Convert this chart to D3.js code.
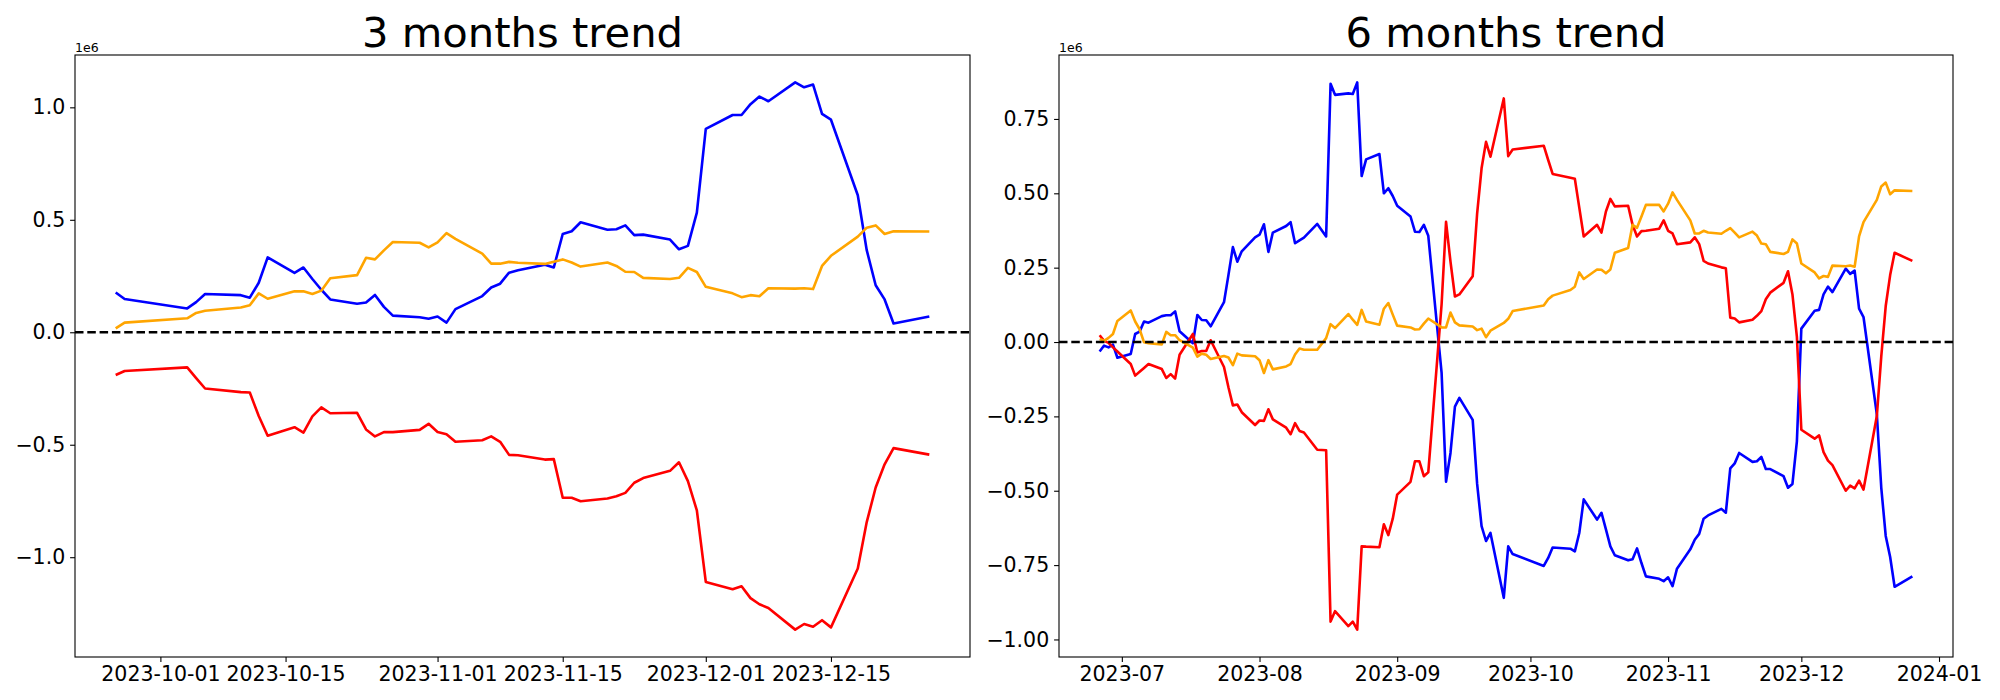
<!DOCTYPE html>
<html><head><meta charset="utf-8">
<script src="https://cdn.jsdelivr.net/npm/d3@7"></script>
<style>
body{margin:0;background:#fff}
svg{display:block}
text{font-family:"DejaVu Sans",sans-serif;fill:#000}
</style>
</head><body>
<svg id="chart" width="2000" height="700"></svg>
<script>
// ---------- 3 months (values in units of 1e6) ----------
const dates3 = [
 "2023-09-26","2023-09-27",
 "2023-10-04","2023-10-05","2023-10-06",
 "2023-10-10","2023-10-11","2023-10-12","2023-10-13",
 "2023-10-16","2023-10-17","2023-10-18","2023-10-19","2023-10-20",
 "2023-10-23","2023-10-24","2023-10-25","2023-10-26","2023-10-27",
 "2023-10-30","2023-10-31","2023-11-01","2023-11-02","2023-11-03",
 "2023-11-06","2023-11-07","2023-11-08","2023-11-09","2023-11-10",
 "2023-11-13","2023-11-14","2023-11-15","2023-11-16","2023-11-17",
 "2023-11-20","2023-11-21","2023-11-22","2023-11-23","2023-11-24",
 "2023-11-27","2023-11-28","2023-11-29","2023-11-30","2023-12-01",
 "2023-12-04","2023-12-05","2023-12-06","2023-12-07","2023-12-08",
 "2023-12-11","2023-12-12","2023-12-13","2023-12-14","2023-12-15",
 "2023-12-18","2023-12-19","2023-12-20","2023-12-21","2023-12-22",
 "2023-12-26"];
const blue3 = [
 0.177,0.148,
 0.106,0.134,0.170,
 0.165,0.154,0.220,0.333,
 0.264,0.288,0.237,0.189,0.146,
 0.127,0.132,0.166,0.113,0.074,
 0.067,0.060,0.070,0.043,0.103,
 0.161,0.199,0.216,0.265,0.276,
 0.300,0.288,0.437,0.449,0.489,
 0.456,0.458,0.475,0.432,0.434,
 0.412,0.369,0.384,0.532,0.904,
 0.966,0.966,1.014,1.048,1.027,
 1.111,1.089,1.101,0.971,0.945,
 0.609,0.365,0.209,0.146,0.039,
 0.070];
const red3 = [
 -0.190,-0.172,
 -0.156,-0.204,-0.250,
 -0.266,-0.268,-0.372,-0.460,
 -0.422,-0.446,-0.374,-0.334,-0.360,
 -0.358,-0.432,-0.463,-0.444,-0.444,
 -0.434,-0.407,-0.443,-0.453,-0.487,
 -0.480,-0.463,-0.487,-0.545,-0.547,
 -0.566,-0.564,-0.736,-0.736,-0.751,
 -0.739,-0.729,-0.714,-0.669,-0.648,
 -0.616,-0.578,-0.662,-0.792,-1.110,
 -1.142,-1.129,-1.182,-1.209,-1.226,
 -1.322,-1.297,-1.309,-1.280,-1.312,
 -1.050,-0.844,-0.690,-0.587,-0.515,
 -0.544];
const orange3 = [
 0.017,0.043,
 0.062,0.086,0.096,
 0.110,0.120,0.173,0.149,
 0.182,0.182,0.170,0.185,0.240,
 0.254,0.331,0.324,0.364,0.401,
 0.398,0.377,0.400,0.441,0.415,
 0.350,0.305,0.305,0.313,0.309,
 0.304,0.314,0.324,0.310,0.292,
 0.310,0.295,0.269,0.268,0.242,
 0.237,0.242,0.286,0.268,0.202,
 0.173,0.156,0.165,0.160,0.196,
 0.194,0.196,0.192,0.295,0.340,
 0.425,0.465,0.475,0.437,0.449,
 0.448];

// ---------- 6 months (values in units of 1e6) ----------
const dates6 = [
 "2023-06-26","2023-06-27","2023-06-28","2023-06-29","2023-06-30",
 "2023-07-03","2023-07-04","2023-07-05","2023-07-06","2023-07-07",
 "2023-07-10","2023-07-11","2023-07-12","2023-07-13","2023-07-14",
 "2023-07-17","2023-07-18","2023-07-19","2023-07-20","2023-07-21",
 "2023-07-24","2023-07-25","2023-07-26","2023-07-27","2023-07-28",
 "2023-07-31","2023-08-01","2023-08-02","2023-08-03","2023-08-04",
 "2023-08-07","2023-08-08","2023-08-09","2023-08-10","2023-08-11",
 "2023-08-14","2023-08-16","2023-08-17","2023-08-18",
 "2023-08-21","2023-08-22","2023-08-23","2023-08-24","2023-08-25",
 "2023-08-28","2023-08-29","2023-08-30","2023-08-31","2023-09-01",
 "2023-09-04","2023-09-05","2023-09-06","2023-09-07","2023-09-08",
 "2023-09-11","2023-09-12","2023-09-13","2023-09-14","2023-09-15",
 "2023-09-18","2023-09-19","2023-09-20","2023-09-21","2023-09-22",
 "2023-09-25","2023-09-26","2023-09-27",
 "2023-10-04","2023-10-05","2023-10-06",
 "2023-10-10","2023-10-11","2023-10-12","2023-10-13",
 "2023-10-16","2023-10-17","2023-10-18","2023-10-19","2023-10-20",
 "2023-10-23","2023-10-24","2023-10-25","2023-10-26","2023-10-27",
 "2023-10-30","2023-10-31","2023-11-01","2023-11-02","2023-11-03",
 "2023-11-06","2023-11-07","2023-11-08","2023-11-09","2023-11-10",
 "2023-11-13","2023-11-14","2023-11-15","2023-11-16","2023-11-17",
 "2023-11-20","2023-11-21","2023-11-22","2023-11-23","2023-11-24",
 "2023-11-27","2023-11-28","2023-11-29","2023-11-30","2023-12-01",
 "2023-12-04","2023-12-05","2023-12-06","2023-12-07","2023-12-08",
 "2023-12-11","2023-12-12","2023-12-13","2023-12-14","2023-12-15",
 "2023-12-18","2023-12-19","2023-12-20","2023-12-21","2023-12-22",
 "2023-12-26"];
const blue6 = [
 -0.032,-0.012,-0.018,-0.009,-0.053,
 -0.040,0.027,0.035,0.069,0.065,
 0.087,0.090,0.090,0.103,0.036,
 -0.004,0.091,0.074,0.073,0.053,
 0.134,0.225,0.319,0.270,0.305,
 0.352,0.361,0.396,0.303,0.368,
 0.390,0.403,0.332,0.342,0.351,
 0.397,0.355,0.868,0.831,
 0.836,0.834,0.873,0.558,0.614,
 0.632,0.500,0.517,0.491,0.458,
 0.422,0.371,0.370,0.394,0.357,
 -0.104,-0.470,-0.373,-0.217,-0.188,
 -0.262,-0.477,-0.619,-0.669,-0.642,
 -0.860,-0.687,-0.713,
 -0.753,-0.726,-0.691,
 -0.695,-0.704,-0.642,-0.529,
 -0.597,-0.574,-0.630,-0.687,-0.717,
 -0.734,-0.730,-0.694,-0.743,-0.788,
 -0.796,-0.804,-0.791,-0.821,-0.762,
 -0.697,-0.665,-0.645,-0.594,-0.583,
 -0.561,-0.574,-0.425,-0.408,-0.373,
 -0.403,-0.401,-0.386,-0.427,-0.427,
 -0.451,-0.490,-0.477,-0.334,0.045,
 0.105,0.108,0.160,0.186,0.168,
 0.247,0.229,0.240,0.112,0.084,
 -0.243,-0.490,-0.652,-0.723,-0.823,
 -0.788];
const red6 = [
 0.023,0.004,-0.003,-0.018,-0.032,
 -0.074,-0.113,-0.100,-0.087,-0.074,
 -0.091,-0.121,-0.108,-0.123,-0.043,
 0.027,-0.035,-0.030,-0.030,0.006,
 -0.084,-0.152,-0.213,-0.210,-0.236,
 -0.279,-0.264,-0.265,-0.226,-0.260,
 -0.288,-0.310,-0.273,-0.299,-0.304,
 -0.362,-0.364,-0.940,-0.905,
 -0.955,-0.940,-0.967,-0.687,-0.688,
 -0.690,-0.613,-0.649,-0.594,-0.513,
 -0.470,-0.401,-0.401,-0.451,-0.438,
 0.127,0.404,0.270,0.153,0.160,
 0.221,0.432,0.584,0.673,0.623,
 0.819,0.625,0.647,
 0.660,0.612,0.565,
 0.552,0.549,0.452,0.355,
 0.394,0.368,0.439,0.481,0.456,
 0.458,0.394,0.355,0.373,0.374,
 0.381,0.409,0.374,0.365,0.329,
 0.335,0.352,0.329,0.273,0.264,
 0.251,0.248,0.082,0.079,0.066,
 0.075,0.088,0.104,0.144,0.166,
 0.199,0.238,0.160,0.017,-0.295,
 -0.325,-0.314,-0.370,-0.399,-0.414,
 -0.500,-0.483,-0.492,-0.466,-0.496,
 -0.249,-0.048,0.121,0.225,0.300,
 0.273];
const orange6 = [
 0.010,0.004,0.014,0.027,0.071,
 0.106,0.069,0.043,-0.001,-0.004,
 -0.008,0.034,0.023,0.023,0.006,
 -0.019,-0.049,-0.039,-0.043,-0.057,
 -0.047,-0.052,-0.078,-0.039,-0.045,
 -0.048,-0.061,-0.104,-0.061,-0.092,
 -0.082,-0.074,-0.042,-0.022,-0.026,
 -0.026,0.013,0.060,0.047,
 0.094,0.075,0.058,0.108,0.069,
 0.058,0.112,0.131,0.092,0.055,
 0.049,0.042,0.043,0.062,0.079,
 0.049,0.049,0.099,0.066,0.056,
 0.052,0.040,0.045,0.016,0.038,
 0.064,0.078,0.104,
 0.123,0.144,0.156,
 0.175,0.186,0.234,0.212,
 0.244,0.243,0.231,0.244,0.300,
 0.316,0.394,0.384,0.422,0.461,
 0.461,0.439,0.465,0.503,0.478,
 0.409,0.365,0.365,0.374,0.368,
 0.364,0.374,0.383,0.368,0.352,
 0.371,0.358,0.331,0.329,0.303,
 0.296,0.303,0.345,0.331,0.264,
 0.234,0.214,0.222,0.219,0.257,
 0.255,0.257,0.253,0.355,0.403,
 0.478,0.523,0.536,0.497,0.510,
 0.508];

// ---------- ticks ----------
const xTicks3 = ["2023-10-01","2023-10-15","2023-11-01","2023-11-15","2023-12-01","2023-12-15"];
const xTicks6 = ["2023-07-01","2023-08-01","2023-09-01","2023-10-01","2023-11-01","2023-12-01","2024-01-01"];
const yTicks3 = [-1.0,-0.5,0,0.5,1.0];
const yTicks6 = [-1.0,-0.75,-0.5,-0.25,0,0.25,0.5,0.75];
const titles = ["3 months trend","6 months trend"];
const seriesColors = ["#0000ff","#ff0000","#ffa500"];
const offsetLabel = "1e6";

const parse = d3.utcParse("%Y-%m-%d");
const svg = d3.select("#chart");
const TOP = 55, BOTTOM = 657;
const TICK = 4.9, PAD = 4.9;

const panels = [
  {title:titles[0], dates:dates3, series:[blue3,red3,orange3], left:75, right:970,
   xTicks:xTicks3, xFmt:d3.utcFormat("%Y-%m-%d"), yTicks:yTicks3, yFmt:d3.format(".1f")},
  {title:titles[1], dates:dates6, series:[blue6,red6,orange6], left:1059, right:1953,
   xTicks:xTicks6, xFmt:d3.utcFormat("%Y-%m"), yTicks:yTicks6, yFmt:d3.format(".2f")}
];

panels.forEach(p => {
  const dts = p.dates.map(parse);
  const [x0, x1] = d3.extent(dts);
  const xr = x1 - x0;
  const x = d3.scaleUtc()
    .domain([new Date(+x0 - 0.05*xr), new Date(+x1 + 0.05*xr)])
    .range([p.left, p.right]);
  const allV = p.series.flat();
  const [v0, v1] = d3.extent(allV);
  const vr = v1 - v0;
  const y = d3.scaleLinear().domain([v0 - 0.05*vr, v1 + 0.05*vr]).range([BOTTOM, TOP]);

  const g = svg.append("g");
  const clipId = "clip" + p.left;
  svg.append("clipPath").attr("id", clipId).append("rect")
    .attr("x", p.left).attr("y", TOP).attr("width", p.right - p.left).attr("height", BOTTOM - TOP);

  const plot = g.append("g").attr("clip-path", `url(#${clipId})`);
  p.series.forEach((s, i) => {
    const line = d3.line().x((d, j) => x(dts[j])).y(d => y(d));
    plot.append("path").datum(s)
      .attr("d", line)
      .attr("fill", "none")
      .attr("stroke", seriesColors[i])
      .attr("stroke-width", 2.6)
      .attr("stroke-linejoin", "round")
      .attr("stroke-linecap", "butt");
  });
  // zero reference line
  plot.append("line")
    .attr("x1", p.left).attr("x2", p.right)
    .attr("y1", y(0)).attr("y2", y(0))
    .attr("stroke", "#000").attr("stroke-width", 2.4)
    .attr("stroke-dasharray", "8.5,3.8");

  // axes
  const xAxis = d3.axisBottom(x).tickValues(p.xTicks.map(parse)).tickFormat(p.xFmt)
    .tickSize(TICK).tickPadding(PAD);
  const gx = g.append("g").attr("transform", `translate(0,${BOTTOM})`).call(xAxis);
  const yAxis = d3.axisLeft(y).tickValues(p.yTicks).tickFormat(p.yFmt)
    .tickSize(TICK).tickPadding(PAD);
  const gy = g.append("g").attr("transform", `translate(${p.left},0)`).call(yAxis);
  [gx, gy].forEach(a => {
    a.select(".domain").remove();
    a.selectAll(".tick line").attr("stroke", "#000").attr("stroke-width", 1.1);
    a.selectAll(".tick text").attr("font-size", "20.5px").attr("font-family", "DejaVu Sans").attr("fill", "#000");
  });

  // frame
  g.append("rect")
    .attr("x", p.left).attr("y", TOP)
    .attr("width", p.right - p.left).attr("height", BOTTOM - TOP)
    .attr("fill", "none").attr("stroke", "#000").attr("stroke-width", 1.1);

  // title
  g.append("text")
    .attr("x", (p.left + p.right) / 2).attr("y", 46.7)
    .attr("text-anchor", "middle").attr("font-size", "41.7px")
    .text(p.title);
  // offset text
  g.append("text")
    .attr("x", p.left).attr("y", 51.5)
    .attr("font-size", "12.5px")
    .text(offsetLabel);
});
</script>
</body></html>
